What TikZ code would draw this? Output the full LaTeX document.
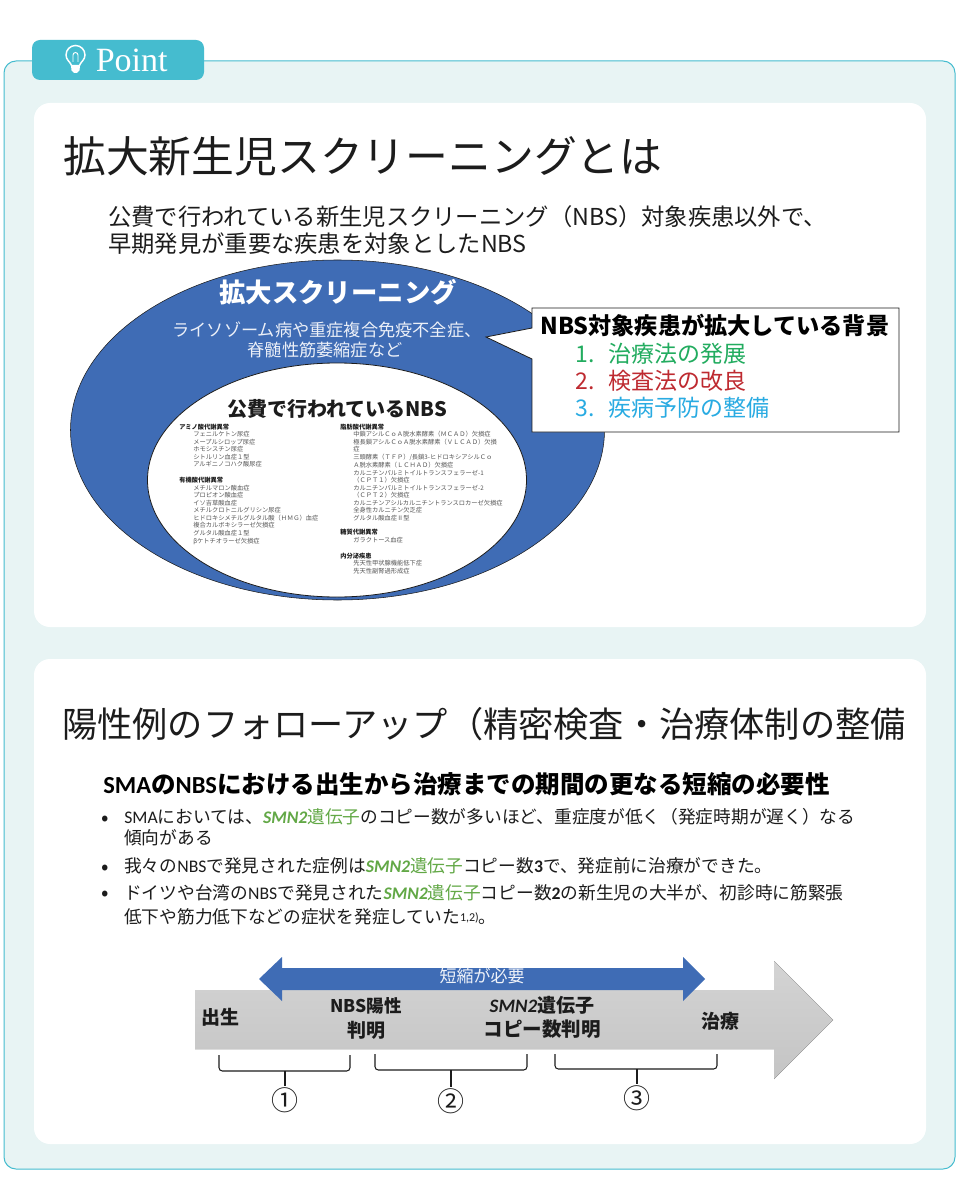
\documentclass[tikz,border=0pt]{standalone}
\usepackage{fontspec}
\setmainfont{Noto Sans CJK JP}
\newfontfamily\latf{Carlito}
\newfontfamily\serf{Liberation Serif}
\newcommand\fs[1]{\fontsize{\fpeval{#1*0.75}}{\fpeval{#1*0.9}}\selectfont}
\newcommand\lt[1]{{\latf #1}}
\newcommand\ltb[1]{{\latf\bfseries #1}}
\newcommand\gene{{\color{smngreen}{\latf\bfseries\itshape SMN2}遺伝子}}
\definecolor{panelfill}{HTML}{E8F4F4}
\definecolor{teal}{HTML}{45BCCF}
\definecolor{ringblue}{HTML}{3F6CB5}
\definecolor{smngreen}{HTML}{62A846}
\definecolor{ink}{HTML}{1C1C1C}
\definecolor{grayink}{HTML}{555555}
\definecolor{itemgreen}{HTML}{22AC5F}
\definecolor{itemred}{HTML}{BE2A30}
\definecolor{itemblue}{HTML}{29ABE2}
\tikzset{
  txt/.style={inner sep=0pt,anchor=west,text=ink,execute at begin node={\rule[-.12em]{0pt}{1em}}},
  ctr/.style={txt,anchor=center},
  small/.style={txt,font=\fs{6.25},text=grayink},
  smallb/.style={txt,font=\fs{6.25}\bfseries,text=ink},
  bracket/.style={draw=ink,line width=.8pt,rounded corners=2.5pt},
}
\begin{document}
\begin{tikzpicture}[x=0.75pt,y=-0.75pt]
\useasboundingbox[fill=white] (0,0) rectangle (960,1180);
% panels
\draw[teal,fill=panelfill,line width=.75pt,rounded corners=9pt] (4,61) rectangle (955,1169);
\fill[teal,rounded corners=6pt] (32,40) rectangle (204,80);
\fill[white,rounded corners=12pt] (34,103) rectangle (926,627);
\fill[white,rounded corners=12pt] (34,659) rectangle (926,1144);
% bulb
\draw[white,line width=1.1pt] (71.5,65.5) .. controls (70.5,62) and (66,60) .. (66,55) arc[start angle=180,end angle=360,radius=9.5] .. controls (85,60) and (80.5,62) .. (79.5,65.5) -- cycle;
\draw[white,line width=.7pt] (73,62) -- (73,55) arc[start angle=180,end angle=360,radius=2.5] -- (78,62);
\fill[white] (71,65.5) -- (80,65.5) -- (79.5,70.5) -- (77,73) -- (74,73) -- (71.5,70.5) -- cycle;
\node[txt,font=\fs{34}\serf,text=white] (point) at (95.5,59) {Point};
% titles
\node[txt,font=\fs{42.8}] (title1) at (63,156) {拡大新生児スクリーニングとは};
\node[txt,font=\fs{23.3}] (sub1) at (108,217) {公費で行われている新生児スクリーニング（NBS）対象疾患以外で、};
\node[txt,font=\fs{23.3}] (sub2) at (108,244) {早期発見が重要な疾患を対象としたNBS};
% ellipses
\draw[draw=ink,line width=.4pt,fill=ringblue] (337.5,430) ellipse[x radius=267,y radius=170];
\draw[draw=ink,line width=.6pt,fill=white] (337,480) ellipse[x radius=189.5,y radius=117];
\node[ctr,font=\fs{26.4}\bfseries,text=white] (ext) at (338,292) {拡大スクリーニング};
\node[ctr,font=\fs{17.2},text=white!90!ringblue] (ext1) at (327,330) {ライソゾーム病や重症複合免疫不全症、};
\node[ctr,font=\fs{17.2},text=white!90!ringblue] (ext2) at (325,350) {脊髄性筋萎縮症など};
\node[ctr,font=\fs{20}\bfseries] (pub) at (337,409) {公費で行われているNBS};
% small lists
\node[smallb] (La) at (179,427) {アミノ酸代謝異常};
\foreach \y/\t in {434/フェニルケトン尿症,442/メープルシロップ尿症,449/ホモシスチン尿症,457/シトルリン血症１型,464/アルギニノコハク酸尿症,
  488/メチルマロン酸血症,495/プロピオン酸血症,503/イソ吉草酸血症,510/メチルクロトニルグリシン尿症,518/ヒドロキシメチルグルタル酸（ＨＭＧ）血症,525/複合カルボキシラーゼ欠損症,533/グルタル酸血症１型,541/βケトチオラーゼ欠損症}
  \node[small] (L\y) at (193,\y) {\t};
\node[smallb] (Lb) at (179,480) {有機酸代謝異常};
\node[smallb] (Ra) at (340,427) {脂肪酸代謝異常};
\foreach \y/\t in {434/中鎖アシルＣｏＡ脱水素酵素（ＭＣＡＤ）欠損症,442/極長鎖アシルＣｏＡ脱水素酵素（ＶＬＣＡＤ）欠損,449/症,457/{三頭酵素（ＴＦＰ）/長鎖3-ヒドロキシアシルＣｏ},465/Ａ脱水素酵素（ＬＣＨＡＤ）欠損症,473/カルニチンパルミトイルトランスフェラーゼ-1,480/（ＣＰＴ１）欠損症,488/カルニチンパルミトイルトランスフェラーゼ-2,495/（ＣＰＴ２）欠損症,503/カルニチンアシルカルニチントランスロカーゼ欠損症,510/全身性カルニチン欠乏症,518/グルタル酸血症Ⅱ型,540/ガラクトース血症,563/先天性甲状腺機能低下症,571/先天性副腎過形成症}
  \node[small] (R\y) at (353,\y) {\t};
\node[smallb] (Rb) at (340,532) {糖質代謝異常};
\node[smallb] (Rc) at (340,556) {内分泌疾患};
% callout
\draw[draw=ink,line width=.6pt,fill=white] (532,308) -- (899,308) -- (899,432) -- (532,432) -- (532,359) -- (486,337) -- (532,328) -- cycle;
\node[txt,font=\fs{23.2}\bfseries,text=black] (bg) at (540,326) {NBS対象疾患が拡大している背景};
\node[txt,font=\fs{23},text=itemgreen] (n1) at (575,354) {1.};
\node[txt,font=\fs{23},text=itemgreen] (i1) at (608,354) {治療法の発展};
\node[txt,font=\fs{23},text=itemred] (n2) at (575,381) {2.};
\node[txt,font=\fs{23},text=itemred] (i2) at (608,381) {検査法の改良};
\node[txt,font=\fs{23},text=itemblue] (n3) at (575,408) {3.};
\node[txt,font=\fs{23},text=itemblue] (i3) at (608,408) {疾病予防の整備};
% second panel
\node[txt,font=\fs{35.2}] (title2) at (62,724) {陽性例のフォローアップ（精密検査・治療体制の整備};
\node[txt,font=\fs{24.5}\bfseries,text=black] (head) at (103,784) {\ltb{SMA}の\ltb{NBS}における出生から治療までの期間の更なる短縮の必要性};
\foreach \y in {817,866,892} \node[ctr,font=\fs{22}] (b\y) at (105,\y) {•};
\node[txt,font=\fs{17.7}] (l1) at (124,817) {\lt{SMA}においては、\gene のコピー数が多いほど、重症度が低く（発症時期が遅く）なる};
\node[txt,font=\fs{17.7}] (l2) at (124,838) {傾向がある};
\node[txt,font=\fs{17.7}] (l3) at (124,866) {我々の\lt{NBS}で発見された症例は\gene コピー数\ltb{3}で、発症前に治療ができた。};
\node[txt,font=\fs{17.7}] (l4) at (124,893) {ドイツや台湾の\lt{NBS}で発見された\gene コピー数\ltb{2}の新生児の大半が、初診時に筋緊張};
\node[txt,font=\fs{17.7}] (l5) at (124,917) {低下や筋力低下などの症状を発症していた{\fs{12}\lt{\raisebox{.4ex}{1,2)}}}。};
% arrows
\fill[top color=black!17,bottom color=black!23] (195,990) -- (774,990) -- (774,961) -- (833,1020) -- (774,1079) -- (774,1049) -- (195,1049) -- cycle;
\fill[ringblue] (259,979) -- (282,957) -- (282,968) -- (683,968) -- (683,957) -- (705,979) -- (683,1001) -- (683,990) -- (282,990) -- (282,1001) -- cycle;
\node[ctr,font=\fs{17},text=white!92!ringblue] (short) at (482,976) {短縮が必要};
\node[ctr,font=\fs{19}\bfseries] (t1) at (220,1017) {出生};
\node[ctr,font=\fs{17.5}\bfseries] (t2a) at (366,1006) {NBS陽性};
\node[ctr,font=\fs{19}\bfseries] (t2b) at (366,1030) {判明};
\node[ctr,font=\fs{19}\bfseries] (t3a) at (542,1005) {\ltb{\itshape SMN2}遺伝子};
\node[ctr,font=\fs{19.5}\bfseries] (t3b) at (542,1029) {コピー数判明};
\node[ctr,font=\fs{19}\bfseries] (t4) at (720,1021) {治療};
% brackets
\node[ctr,font=\fs{27}] (c1) at (285,1100) {①};
\node[ctr,font=\fs{27}] (c2) at (451,1101) {②};
\node[ctr,font=\fs{27}] (c3) at (637,1098) {③};
\draw[bracket] (219,1055) -- (219,1071) -- (350,1071) -- (350,1055);
\draw[bracket] (375,1054) -- (375,1070) -- (527,1070) -- (527,1054);
\draw[bracket] (555,1054) -- (555,1069) -- (717,1069) -- (717,1054);
\coordinate (s1) at (285,1071); \coordinate (s2) at (451,1070); \coordinate (s3) at (637,1069);
\draw[ink,line width=.8pt] (s1) -- (c1.north);
\draw[ink,line width=.8pt] (s2) -- (c2.north);
\draw[ink,line width=.8pt] (s3) -- (c3.north);
\end{tikzpicture}
\end{document}
